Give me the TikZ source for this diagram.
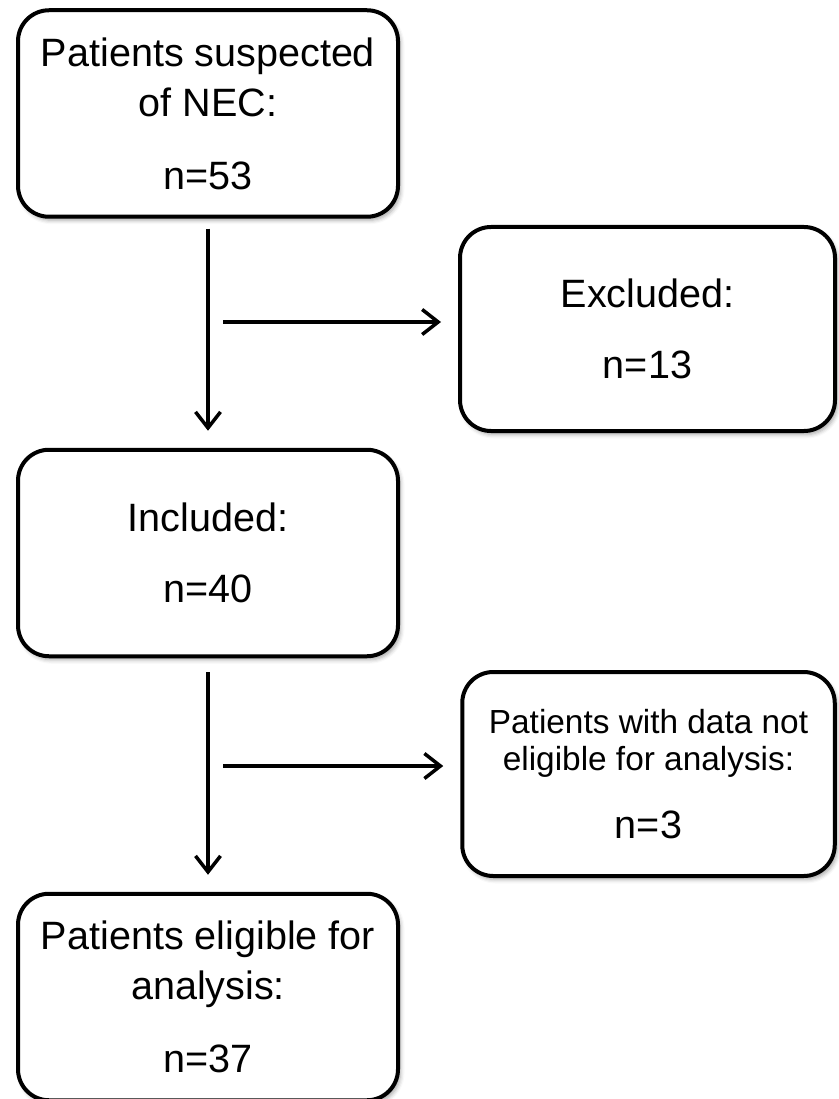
\documentclass[tikz,border=0pt]{standalone}
\usepackage{fontspec}
\setmainfont{Liberation Sans}
\usepackage{tikz}
\usetikzlibrary{arrows.meta, positioning, shadows.blur}
\newcommand{\notefont}{\fontsize{19}{21.6}\selectfont}
\newcommand{\countfont}{\fontsize{22.5}{28.5}\selectfont}

\begin{document}
\begin{tikzpicture}[
  box/.style = {
    rectangle, rounded corners=0.62cm,
    draw=black, fill=white,
    minimum width=7.6cm, minimum height=4.13cm,
    align=center, line width=0.08cm, inner sep=2pt,
    font=\countfont,
    blur shadow={shadow xshift=0.05cm, shadow yshift=-0.07cm,
      shadow blur radius=0.08cm, shadow opacity=35}
  },
  arr/.style = {-{Straight Barb[length=0.32cm, width=0.5cm]}, line width=0.07cm, draw=black}
]
\useasboundingbox (0,0) rectangle (16.76,-21.98);

% ---- LEFT COLUMN ----
\node[box] (nec)  at (4.16,-2.27)  {Patients suspected\\of NEC:\\[13pt]n=53};
\node[box] (incl) at (4.16,-11.06) {Included:\\[12pt]n=40};
\node[box] (elig) at (4.16,-19.94) {Patients eligible for\\analysis:\\[13pt]n=37};

% ---- RIGHT COLUMN ----
\node[box, minimum width=7.5cm, minimum height=4.08cm]  (excl)  at (12.95,-6.58)  {Excluded:\\[12pt]n=13};
\node[box, minimum width=7.45cm, minimum height=4.08cm, font=\notefont] (notel) at (12.97,-15.48)
  {Patients with data not\\eligible for analysis:\\[17pt]{\countfont n=3}};

% ---- SPLIT POINTS ----
\coordinate (split1) at (4.46,-6.44);
\coordinate (split2) at (4.46,-15.32);

% ---- ARROWS ----
\draw[arr, shorten <=0.2cm, shorten >=0.34cm] (nec.south) -- (incl.north);
\draw[arr, shorten >=0.34cm] (split1) -- (split1 -| excl.west);

\draw[arr, shorten <=0.28cm, shorten >=0.34cm] (incl.south) -- (elig.north);
\draw[arr, shorten >=0.34cm] (split2) -- (split2 -| notel.west);

\end{tikzpicture}
\end{document}
